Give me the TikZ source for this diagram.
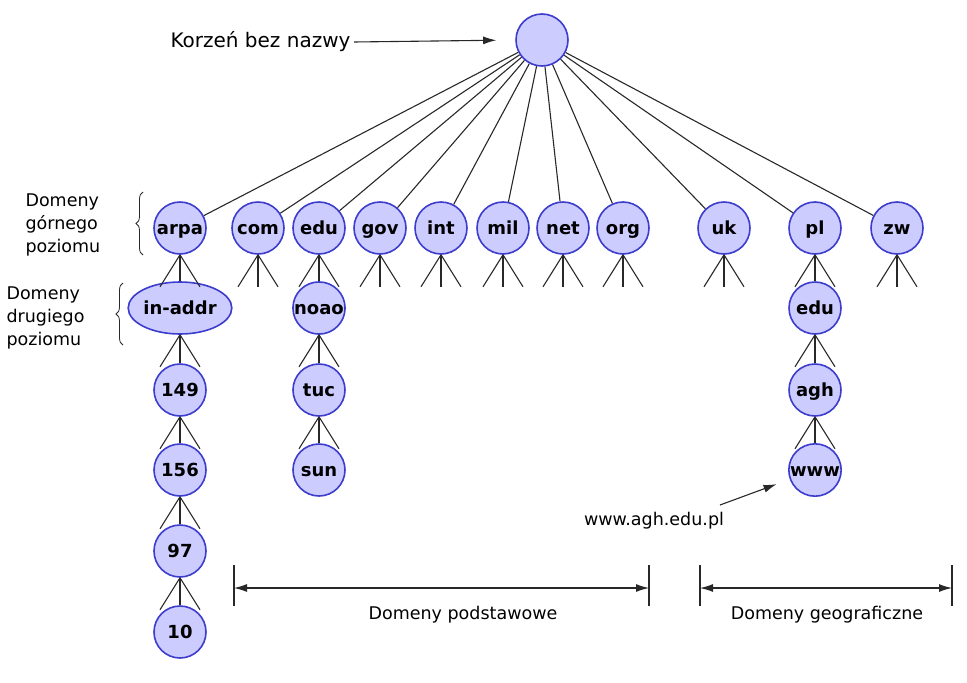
\documentclass[tikz,border=0pt]{standalone}
\usepackage{fontspec}
\setmainfont{DejaVu Sans}
\usetikzlibrary{shapes.geometric,decorations.pathreplacing,arrows.meta}
\definecolor{dnsfill}{RGB}{204,204,255}
\definecolor{dnsdraw}{RGB}{60,60,205}
\definecolor{wire}{RGB}{40,40,40}
\tikzset{
    dns/.style={circle, draw=dnsdraw, fill=dnsfill, line width=1.6pt, minimum size=52pt, inner sep=0pt, text height=14pt, text depth=2pt, font=\bfseries\fontsize{18}{20}\selectfont},
    leg/.style={draw=wire, line width=1.1pt},
    lbl/.style={font=\fontsize{17.5}{23}\selectfont, align=left},
    tip/.style={>={Latex[length=13pt, width=8pt]}},
}
\begin{document}
\begin{tikzpicture}[x=1pt, y=-1pt]
    \useasboundingbox (0,0) rectangle (967,683);

    %root
    \node[dns] (root) at (542,40) {};
    \node[font=\fontsize{20}{24}\selectfont, anchor=east] (korzen) at (354,42) {Korzeń bez nazwy};
    \draw[->, tip, leg] (korzen.east) -- (root.west) [shorten >=19pt];

    %top level
    \node[dns] (arpa) at (180,228) {arpa};
    \node[dns] (com) at (258,228) {com};
    \node[dns] (edu) at (319,228) {edu};
    \node[dns] (gov) at (380,228) {gov};
    \node[dns] (int) at (441,228) {int};
    \node[dns] (mil) at (503,228) {mil};
    \node[dns] (net) at (563,228) {net};
    \node[dns] (org) at (623,228) {org};
    \node[dns] (uk) at (724,228) {uk};
    \node[dns] (pl) at (815,228) {pl};
    \node[dns] (zw) at (897,228) {zw};
    \foreach \n in {arpa,com,edu,gov,int,mil,net,org,uk,pl,zw}
        \draw[leg] (root) -- (\n);

    %arpa
    \node[dns, ellipse, minimum width=92pt] (inaddr) at (180,308) {in-addr};
    \node[dns] (n149) at (180,390) {149};
    \node[dns] (n156) at (180,470) {156};
    \node[dns] (n97) at (180,551) {97};
    \node[dns] (n10) at (180,632) {10};
    %edu
    \node[dns] (noao) at (319,308) {noao};
    \node[dns] (tuc) at (319,390) {tuc};
    \node[dns] (sun) at (319,470) {sun};
    %pl
    \node[dns] (pledu) at (815,308) {edu};
    \node[dns] (agh) at (815,390) {agh};
    \node[dns] (www) at (815,470) {www};

    %fans
    \foreach \n in {arpa,com,edu,gov,int,mil,net,org,uk,pl,zw,inaddr,n149,n156,n97,noao,tuc,pledu,agh}
        \draw[leg] (\n.south) -- ++(-20,32) (\n.south) -- ++(20,32);
    \foreach \n in {com,gov,int,mil,net,org,uk,zw}
        \draw[leg] (\n.south) -- ++(0,32);
    \foreach \a/\b in {arpa/inaddr,inaddr/n149,n149/n156,n156/n97,n97/n10,edu/noao,noao/tuc,tuc/sun,pl/pledu,pledu/agh,agh/www}
        \draw[leg] (\a) -- (\b);

    %www label
    \node[lbl] (wwwlbl) at (654,521) {www.agh.edu.pl};
    \coordinate (wwwfrom) at (720,505);
    \draw[->, tip, leg] (wwwfrom) -- (www) [shorten >=14pt];

    %left labels
    \node[lbl, anchor=west] (gorne) at (22,225) {Domeny\\górnego\\poziomu};
    \node[lbl, anchor=west] (drugie) at (3,318) {Domeny\\drugiego\\poziomu};
    \draw[leg, line width=0.8pt, decorate, decoration={brace, amplitude=7pt}] (143,255) -- (143,192);
    \draw[leg, line width=0.8pt, decorate, decoration={brace, amplitude=7pt}] (123,345) -- (123,283);

    %ranges
    \coordinate (pa) at (234,588);
    \coordinate (pb) at (649,588);
    \coordinate (ga) at (700,588);
    \coordinate (gb) at (952,588);
    \foreach \c in {pa,pb,ga,gb}
        \draw[leg] (\c) ++(0,-23) -- ++(0,41);
    \draw[<->, tip, leg] (pa) -- (pb);
    \draw[<->, tip, leg] (ga) -- (gb);
    \node[lbl] (podst) at (463,615) {Domeny podstawowe};
    \node[lbl] (geo) at (827,615) {Domeny geograficzne};
\end{tikzpicture}
\end{document}
